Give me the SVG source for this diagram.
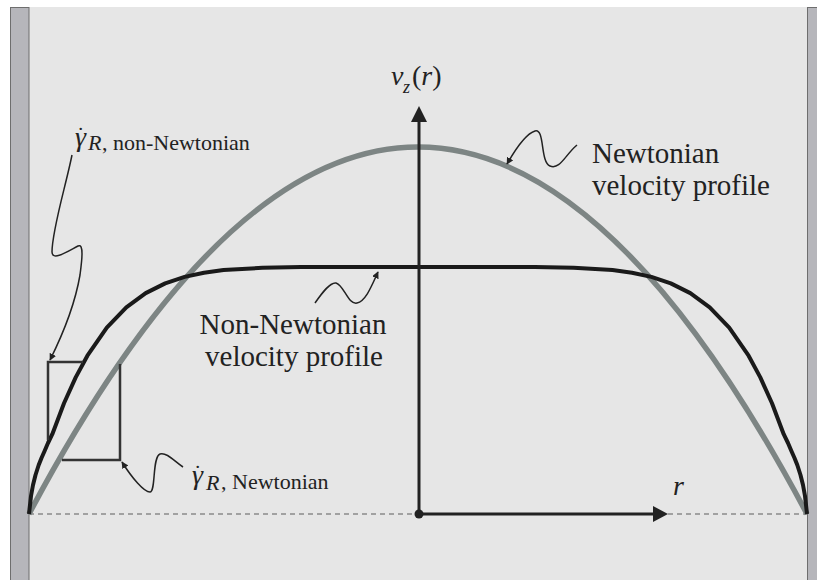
<svg xmlns="http://www.w3.org/2000/svg" width="817" height="580" viewBox="0 0 817 580">
<style>
text{font-family:'Liberation Serif','DejaVu Serif',serif;fill:#222}
.it{font-style:italic}
.lead{fill:none;stroke:#222;stroke-width:1.5;marker-end:url(#ah)}
.box{fill:none;stroke:#333;stroke-width:2.5}
.axis{stroke:#222;stroke-width:3;fill:none}
</style>
<defs>
<marker id="ah" viewBox="0 0 10 10" refX="9" refY="5" markerWidth="7" markerHeight="7" markerUnits="userSpaceOnUse" orient="auto">
<path d="M0,0 L10,5 L0,10 z" fill="#222"/>
</marker>
</defs>
<rect x="0" y="0" width="817" height="580" fill="#ffffff"/>
<rect x="10" y="7" width="807" height="573" fill="#e6e6e6"/>
<g id="walls">
<rect x="10.5" y="7.5" width="18.5" height="573" fill="#b6b6bb" stroke="#6e6e6e" stroke-width="1"/>
<rect x="807.5" y="7.5" width="10" height="573" fill="#b6b6bb" stroke="#6e6e6e" stroke-width="1"/>
</g>
<g id="baseline">
<line x1="29" y1="514" x2="807" y2="514" stroke="#8a8a8a" stroke-width="1.5" stroke-dasharray="5 4"/>
</g>
<g id="newtonian-profile">
<path d="M29,514 Q418,-220 807,514" fill="none" stroke="#7d8584" stroke-width="5.5"/>
</g>
<g id="non-newtonian-profile">
<polyline fill="none" stroke="#1a1a1a" stroke-width="4" stroke-linejoin="round" points="29,514 31,496 33,485 35.5,475 38.7,465 41.5,458 44.6,451 48,443 52.3,434.2 64,403.3 75.7,377.4 87.4,355.7 106.8,327.6 126.3,307.3 145.7,293.1 165.2,283.4 184.6,276.9 204,272.7 223.5,270.1 262.4,267.8 301.3,267.1 418,267 534.7,267.1 573.6,267.8 612.5,270.1 632,272.7 651.4,276.9 670.8,283.4 690.3,293.1 709.7,307.3 729.2,327.6 748.6,355.7 760.3,377.4 772,403.3 783.7,434.2 788,443 791.4,451 794.5,458 797.3,465 800.5,475 803,485 805,496 807,514"/>
</g>
<g id="axes">
<line class="axis" x1="419" y1="514" x2="419" y2="120"/>
<polygon points="419,106 411,122 427,122" fill="#222"/>
<line class="axis" x1="419" y1="514" x2="655" y2="514"/>
<polygon points="668,514 653,506 653,522" fill="#222"/>
<circle cx="419" cy="514" r="4.5" fill="#222"/>
<text y="85" font-size="28"><tspan class="it" x="391">v</tspan><tspan class="it" x="403" y="93" font-size="18">z</tspan><tspan x="412" y="85">(</tspan><tspan class="it">r</tspan><tspan>)</tspan></text>
<text class="it" x="673" y="495" font-size="28">r</text>
</g>
<g id="shear-boxes">
<path class="box" d="M48,440 L48,362 L83,362"/>
<path class="box" d="M62,460 L120,460 L120,364"/>
</g>
<g id="connectors">
<path class="lead" d="M577,145 C565,155 560,170 550,166 C540,162 545,128 535,131 C525,134 515,150 507,164"/>
<path class="lead" d="M315,303 C322,293 330,282 336,283 C344,285 348,305 357,303 C366,301 372,285 378,272"/>
<path class="lead" d="M72,155 C66,185 52,230 52,252 C52,262 70,250 78,246 C84,243 82,260 80,275 C74,310 60,340 50,360"/>
<path class="lead" d="M183,467 C175,462 167,452 160,454 C152,457 156,492 150,492 C144,492 132,478 122,462"/>
</g>
<g id="label-newtonian">
<text x="592" y="163" font-size="29">Newtonian</text>
<text x="592" y="195" font-size="29">velocity profile</text>
</g>
<g id="label-non-newtonian">
<text x="293" y="334" font-size="29" text-anchor="middle">Non-Newtonian</text>
<text x="294" y="366" font-size="29" text-anchor="middle">velocity profile</text>
</g>
<g id="label-gamma-nonnewtonian">
<text y="146" font-size="22"><tspan class="it" x="75" font-size="28">γ</tspan><tspan x="77" y="142">˙</tspan><tspan class="it" x="88" y="150">R</tspan><tspan x="102" y="150">, non-Newtonian</tspan></text>
</g>
<g id="label-gamma-newtonian">
<text y="484" font-size="22"><tspan class="it" x="192" font-size="28">γ</tspan><tspan x="194" y="480">˙</tspan><tspan class="it" x="206" y="490">R</tspan><tspan x="221" y="489">, Newtonian</tspan></text>
</g>
</svg>
